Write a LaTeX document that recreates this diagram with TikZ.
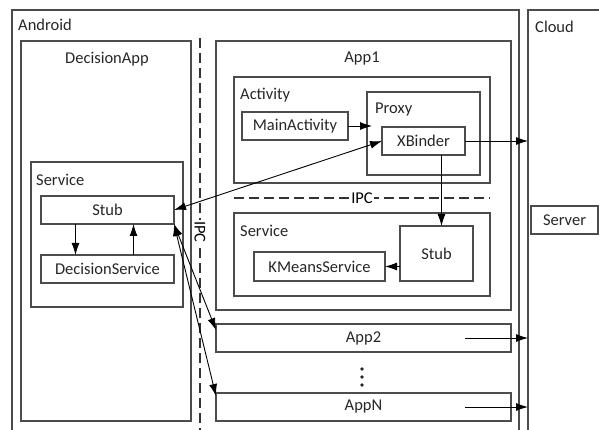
\documentclass[tikz,border=0pt]{standalone}
\usepackage{fontspec}
\setmainfont{Carlito}
\usetikzlibrary{arrows.meta}

\tikzset{
  box/.style={draw=black!70, line width=1.2pt, inner sep=0pt, outer sep=0pt, text=black!85},
  tag/.style={inner sep=0pt, anchor=west, text=black!85},
  arr/.style={-{Latex[length=12pt,width=8pt]}, line width=0.9pt},
  darr/.style={{Latex[length=12pt,width=8pt]}-{Latex[length=12pt,width=8pt]}, line width=0.9pt},
  ipcline/.style={dash pattern=on 10pt off 5pt, line width=1.2pt, draw=black!80}
}

\begin{document}
\begin{tikzpicture}[x=1pt, y=-1pt, font=\fontsize{16.5}{19}\selectfont]
\useasboundingbox (0,0) rectangle (599,430);
% outer areas
\node[box, minimum width=507pt, minimum height=430pt] (android) at (265.5,225) {};
\node[box, minimum width=92pt, minimum height=430pt] (cloud) at (574,225) {};
\node[tag] (androidTag) at (18,25) {Android};
\node[tag] (cloudTag) at (535,27) {Cloud};
\node[box, minimum width=67pt, minimum height=28pt] (server) at (564.5,220) {Server};

% decision app
\node[box, minimum width=170pt, minimum height=380pt] (decApp) at (106,231) {};
\node[tag, anchor=center] (decAppTag) at (107,59) {DecisionApp};
\node[box, minimum width=152pt, minimum height=145pt] (svcL) at (107,234.5) {};
\node[tag] (svcLTag) at (36,180) {Service};
\node[box, minimum width=133pt, minimum height=28pt] (stubL) at (107.5,210) {Stub};
\node[box, minimum width=133pt, minimum height=28pt] (decSvc) at (107.5,269) {DecisionService};

% app1
\node[box, minimum width=295pt, minimum height=269pt] (app1) at (363.5,175.5) {};
\node[tag, anchor=center] (app1Tag) at (362,59) {App1};
\node[box, minimum width=256pt, minimum height=106pt] (activity) at (362,130) {};
\node[tag] (activityTag) at (240,95) {Activity};
\node[box, minimum width=106pt, minimum height=28pt] (mainAct) at (295,126) {MainActivity};
\node[box, minimum width=113pt, minimum height=83pt] (proxy) at (423.5,133.5) {};
\node[tag] (proxyTag) at (375,110) {Proxy};
\node[box, minimum width=83pt, minimum height=28pt] (xbinder) at (423.5,141) {XBinder};
\node[box, minimum width=256pt, minimum height=83pt] (svcR) at (362,254.5) {};
\node[tag] (svcRTag) at (240,231) {Service};
\node[box, minimum width=73pt, minimum height=55pt] (stubR) at (436.5,253.5) {Stub};
\node[box, minimum width=131pt, minimum height=29pt] (kmeans) at (319.5,266.5) {KMeansService};

% other apps
\node[box, minimum width=295pt, minimum height=28pt] (app2) at (363.5,338) {App2};
\node[box, minimum width=295pt, minimum height=28pt] (appN) at (363.5,407) {AppN};
\node[inner sep=0pt] (dots) at (362,377) {};
\foreach \d in {-8,0,8}
  \fill[black!85] ([yshift=\d pt]dots) circle (1.9pt);

% IPC borders
\draw[ipcline] (200,38) -- (200,440);
\node[fill=white, rotate=-90, inner sep=1pt] (ipcV) at (200,232) {IPC};
\draw[ipcline] (234,198) -- (490,198);
\node[fill=white, inner sep=1pt] (ipcH) at (362,198) {IPC};

% calls
\draw[arr] ([xshift=-32pt]stubL.south) -- ([xshift=-32pt]decSvc.north);
\draw[arr] ([xshift=26pt]decSvc.north) -- ([xshift=26pt]stubL.south);
\draw[arr] (mainAct.east) -- ([xshift=5pt]proxy.west |- mainAct.east);
\draw[darr] (stubL.east) -- (xbinder.west);
\draw[arr] (xbinder.east) -- (cloud.west |- xbinder.east);
\draw[arr] ([xshift=18pt]xbinder.south) -- ([xshift=18pt]xbinder.south |- stubR.north);
\draw[arr] (stubR.west |- kmeans.east) -- (kmeans.east);
\draw[darr] (stubL.south east) -- ([yshift=8pt]app2.west);
\draw[darr] (stubL.south east) -- ([yshift=11pt]appN.west);
\draw[arr] ([xshift=-46pt]app2.east) -- (cloud.west |- app2.east);
\draw[arr] ([xshift=-46pt]appN.east) -- (cloud.west |- appN.east);
\end{tikzpicture}
\end{document}
